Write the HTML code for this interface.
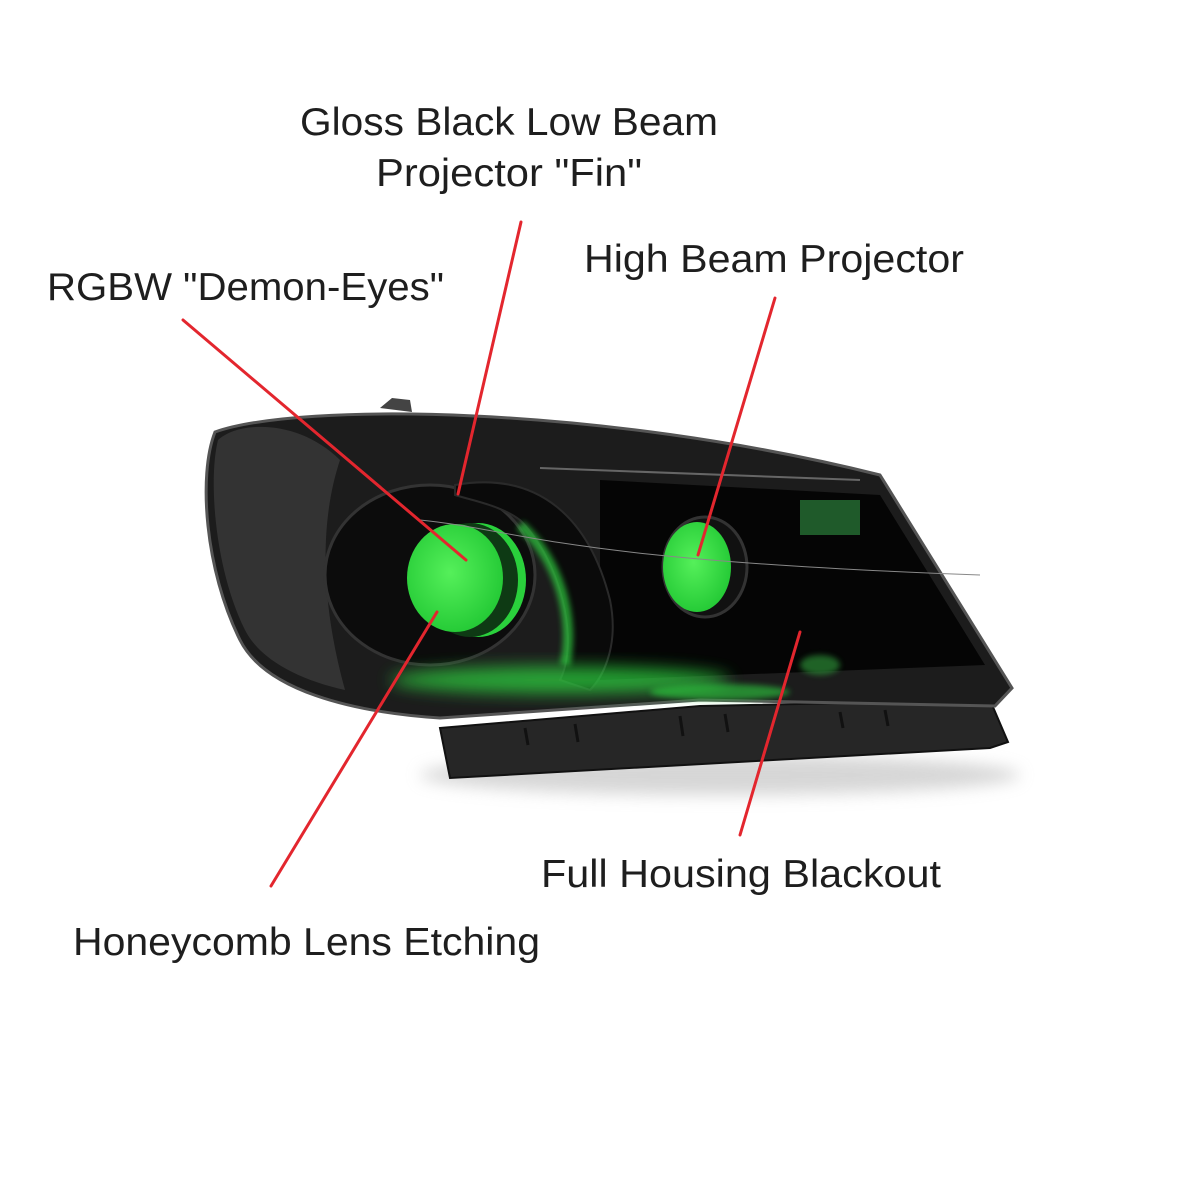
<!DOCTYPE html>
<html><head><meta charset="utf-8"><style>
html,body{margin:0;padding:0;background:#fff;width:1201px;height:1200px;overflow:hidden}
svg{display:block}
text{font-family:"Liberation Sans",sans-serif;fill:#1e1e1e;font-size:39px}
</style></head><body>
<svg width="1201" height="1200" viewBox="0 0 1201 1200" xmlns="http://www.w3.org/2000/svg">
<defs>
<filter id="b8" x="-50%" y="-50%" width="200%" height="200%"><feGaussianBlur stdDeviation="8"/></filter>
<filter id="b3" x="-50%" y="-50%" width="200%" height="200%"><feGaussianBlur stdDeviation="3"/></filter>
<radialGradient id="lg" cx="45%" cy="45%" r="60%"><stop offset="0" stop-color="#55f05a"/><stop offset="1" stop-color="#22c834"/></radialGradient>
</defs>
<rect width="1201" height="1200" fill="#fff"/>
<ellipse cx="720" cy="775" rx="300" ry="20" fill="#bbb" filter="url(#b8)" opacity="0.6"/>
<!-- bottom trim -->
<path d="M440,728 L700,706 L990,700 L1008,742 L990,748 L450,778 Z" fill="#262626" stroke="#111" stroke-width="2"/>
<g stroke="#111" stroke-width="3">
<line x1="525" y1="728" x2="528" y2="745"/><line x1="575" y1="724" x2="578" y2="742"/>
<line x1="680" y1="716" x2="683" y2="736"/><line x1="725" y1="714" x2="728" y2="732"/>
<line x1="840" y1="712" x2="843" y2="728"/><line x1="885" y1="710" x2="888" y2="726"/>
</g>
<!-- main housing -->
<path d="M215,432 C300,402 600,405 880,475 L1012,688 L995,706 L700,700 L440,718 C350,712 265,690 240,640 C205,570 198,475 215,432 Z" fill="#1c1c1c" stroke="#555" stroke-width="3"/>
<path d="M218,440 C240,420 300,420 340,460 C320,520 320,600 345,690 C300,680 260,660 245,630 C215,570 208,480 218,440 Z" fill="#3a3a3a" opacity="0.8"/>
<path d="M380,408 L392,398 L410,400 L412,412 Z" fill="#444"/>
<path d="M600,480 L880,495 L985,665 L600,680 Z" fill="#050505"/>
<rect x="800" y="500" width="60" height="35" fill="#1f5a2a"/>
<ellipse cx="430" cy="575" rx="105" ry="90" fill="#0c0c0c" stroke="#333" stroke-width="3"/>
<path d="M455,485 C540,470 590,520 610,600 C620,650 600,680 590,690 L560,680 C580,640 560,560 520,520 C500,505 470,500 455,495 Z" fill="#0a0a0a" stroke="#2a2a2a" stroke-width="2"/>
<path d="M520,525 C560,560 575,620 565,665" stroke="#2fd040" stroke-width="10" fill="none" opacity="0.7" filter="url(#b3)"/>
<ellipse cx="560" cy="680" rx="170" ry="14" fill="#2fd040" opacity="0.75" filter="url(#b8)"/>
<ellipse cx="720" cy="692" rx="70" ry="8" fill="#2fd040" opacity="0.6" filter="url(#b3)"/>
<ellipse cx="820" cy="665" rx="20" ry="10" fill="#2a8a35" opacity="0.7" filter="url(#b3)"/>
<ellipse cx="478" cy="580" rx="48" ry="57" fill="#2ad03c"/>
<ellipse cx="470" cy="580" rx="48" ry="57" fill="#0e3a14"/>
<ellipse cx="455" cy="578" rx="48" ry="54" fill="url(#lg)"/>
<ellipse cx="705" cy="567" rx="42" ry="50" fill="#111" stroke="#333" stroke-width="3"/>
<ellipse cx="697" cy="567" rx="34" ry="45" fill="url(#lg)"/>
<path d="M420,520 C520,530 560,560 980,575" stroke="#888" stroke-width="1" fill="none"/>
<path d="M540,468 L860,480" stroke="#666" stroke-width="2" fill="none"/>
<g stroke="#e3262e" stroke-width="3" stroke-linecap="round">
<line x1="521" y1="222" x2="458" y2="494"/>
<line x1="775" y1="298" x2="698" y2="555"/>
<line x1="183" y1="320" x2="466" y2="560"/>
<line x1="437" y1="612" x2="271" y2="886"/>
<line x1="800" y1="632" x2="740" y2="835"/>
</g>
<text x="300" y="135" textLength="418" lengthAdjust="spacingAndGlyphs">Gloss Black Low Beam</text>
<text x="376" y="186" textLength="266" lengthAdjust="spacingAndGlyphs">Projector "Fin"</text>
<text x="584" y="272" textLength="380" lengthAdjust="spacingAndGlyphs">High Beam Projector</text>
<text x="47" y="300" textLength="397" lengthAdjust="spacingAndGlyphs">RGBW "Demon-Eyes"</text>
<text x="541" y="887" textLength="400" lengthAdjust="spacingAndGlyphs">Full Housing Blackout</text>
<text x="73" y="955" textLength="467" lengthAdjust="spacingAndGlyphs">Honeycomb Lens Etching</text>
</svg>
</body></html>
